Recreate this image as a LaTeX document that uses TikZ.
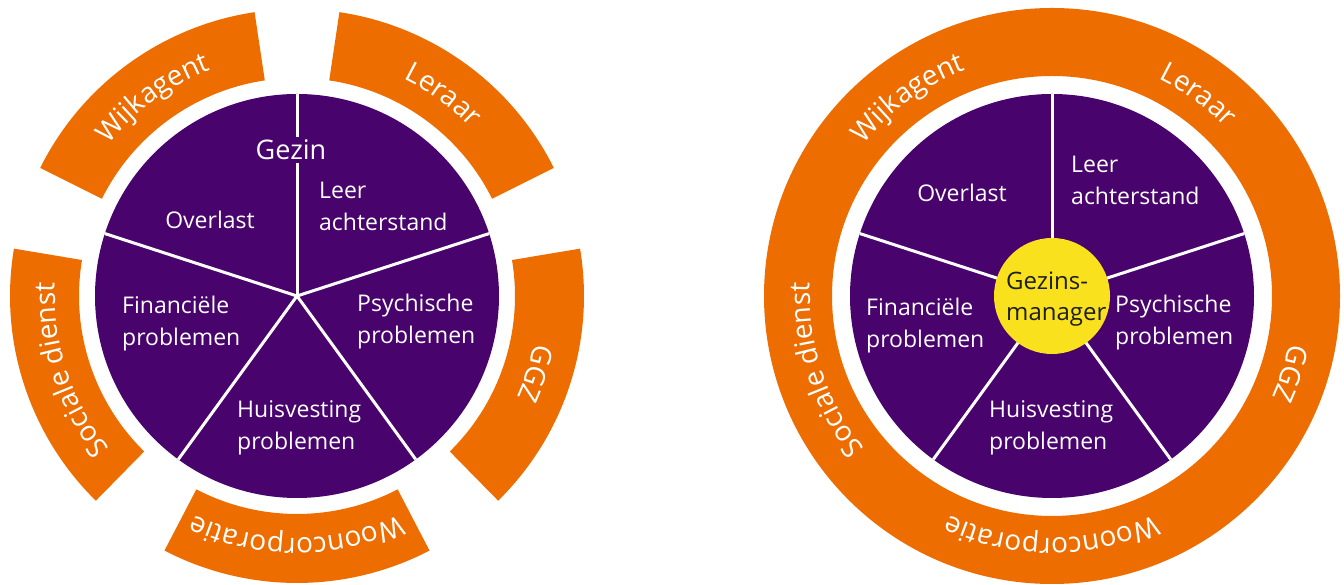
\documentclass[tikz,border=0pt]{standalone}
\usepackage{fontspec}
\setmainfont{Open Sans}
\usetikzlibrary{decorations.text}
\definecolor{purp}{HTML}{48036D}
\definecolor{orng}{HTML}{EE6D00}
\definecolor{ylw}{HTML}{F9E11E}
\definecolor{dark}{HTML}{1E1E1E}
\tikzset{
  pie/.style={fill=purp},
  spoke/.style={draw=white, line width=3pt},
  seg/.style={fill=orng},
  lbl/.style={text=white, font=\fontsize{23}{32}\selectfont, align=left, inner sep=0pt},
  ringtext/.style={decorate, decoration={text along path, text align=center, text color=white,
     text={|\fontsize{28}{28}\selectfont|#1}}}
}
\begin{document}
\begin{tikzpicture}[x=1pt,y=1pt]
\useasboundingbox (0,0) rectangle (1344,585);
% ---------------- left diagram ----------------
\coordinate (L) at (297,289);
\begin{scope}[shift={(L)}]
  \foreach \c in {54,126,198,270,342}{
    \fill[seg] (\c-27.5:218pt) -- (\c-27.5:287pt) arc[start angle=\c-27.5, end angle=\c+27.5, radius=287pt]
      -- (\c+27.5:218pt) arc[start angle=\c+27.5, end angle=\c-27.5, radius=218pt] -- cycle;
  }
  \path[ringtext=Wijkagent] (154:242pt) arc[start angle=154, end angle=98, radius=242pt];
  \path[ringtext=Leraar] (82:242pt) arc[start angle=82, end angle=26, radius=242pt];
  \path[ringtext=GGZ] (10:242pt) arc[start angle=10, end angle=-46, radius=242pt];
  \path[ringtext=Wooncorporatie] (-62:242pt) arc[start angle=-62, end angle=-118, radius=242pt];
  \path[ringtext=Sociale dienst] (226:242pt) arc[start angle=226, end angle=170, radius=242pt];
  \fill[pie] (0,0) circle[radius=202pt];
  \foreach \a in {90,18,-54,-126,162}{
    \draw[spoke] (0,0) -- (\a:202pt);
  }
\end{scope}
\node[lbl, fill=purp, inner sep=3pt, font=\fontsize{27}{27}\selectfont] (gezin) at (291,435) {Gezin};
\node[lbl] (overlastL) at (210,365) {Overlast};
\node[lbl, anchor=west] (leerL) at (319,379) {Leer\\achterstand};
\node[lbl, anchor=west] (finL) at (122,261) {Financiële\\problemen};
\node[lbl, anchor=west] (psyL) at (357,263) {Psychische\\problemen};
\node[lbl, anchor=west] (huisL) at (237,157) {Huisvesting\\problemen};
% ---------------- right diagram ----------------
\coordinate (R) at (1052,289);
\begin{scope}[shift={(R)}]
  \fill[seg, even odd rule] (0,0) circle[radius=288pt] (0,0) circle[radius=220pt];
  \path[ringtext=Wijkagent] (154:242pt) arc[start angle=154, end angle=98, radius=242pt];
  \path[ringtext=Leraar] (82:242pt) arc[start angle=82, end angle=26, radius=242pt];
  \path[ringtext=GGZ] (10:242pt) arc[start angle=10, end angle=-46, radius=242pt];
  \path[ringtext=Wooncorporatie] (-62:242pt) arc[start angle=-62, end angle=-118, radius=242pt];
  \path[ringtext=Sociale dienst] (226:242pt) arc[start angle=226, end angle=170, radius=242pt];
  \fill[pie] (0,0) circle[radius=202pt];
  \foreach \a in {90,18,-54,-126,162}{
    \draw[spoke] (0,0) -- (\a:202pt);
  }
\end{scope}
\node[circle, fill=ylw, minimum size=116pt, inner sep=0pt] (gm) at (R) {};
\node[lbl, text=dark, anchor=west, font=\fontsize{24}{31}\selectfont] (gmtext) at (1006,286) {Gezins-\\manager};
\node[lbl] (overlastR) at (962,392) {Overlast};
\node[lbl, anchor=west] (leerR) at (1071,405) {Leer\\achterstand};
\node[lbl, anchor=west] (finR) at (866,259) {Financiële\\problemen};
\node[lbl, anchor=west] (psyR) at (1115,262) {Psychische\\problemen};
\node[lbl, anchor=west] (huisR) at (989,157) {Huisvesting\\problemen};
\end{tikzpicture}
\end{document}
